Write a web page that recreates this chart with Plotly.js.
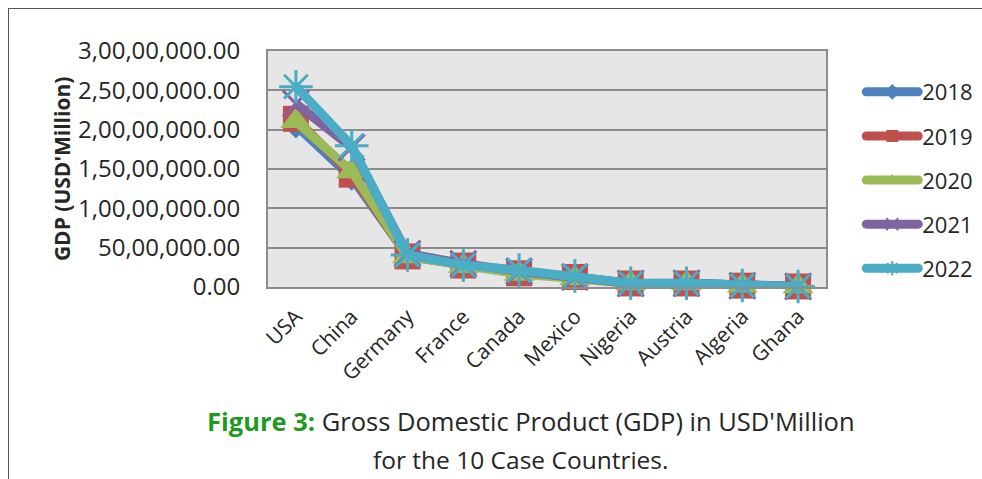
<!DOCTYPE html>
<html>
<head>
<meta charset="utf-8">
<script src="https://cdn.plot.ly/plotly-3.0.1.min.js"></script>
<style>
  html, body { margin: 0; padding: 0; background: #ffffff; }
  #wrap { position: relative; width: 982px; height: 479px; overflow: hidden; }
  #chart { width: 982px; height: 479px; }
  #frame { position: absolute; left: 8px; top: 8px; right: -4px; bottom: -4px;
           border-top: 1.5px solid #555; border-left: 1.5px solid #555; pointer-events: none; }
</style>
</head>
<body>
<div id="wrap">
  <div id="chart"></div>
  <div id="frame"></div>
</div>
<script>
// GDP in USD million for the ten case countries, 2018-2022
const countries = ["USA", "China", "Germany", "France", "Canada", "Mexico", "Nigeria", "Austria", "Algeria", "Ghana"];
const years = ["2018", "2019", "2020", "2021", "2022"];

const gdp2018 = [20533058, 13894818, 3974443, 2790957, 1725329, 1222408, 421739, 455095, 174910, 67299];
const gdp2019 = [21380976, 14279937, 3889669, 2728870, 1743725, 1269404, 448120, 444621, 171760, 68338];
const gdp2020 = [21060474, 14687744, 3887727, 2639009, 1655685, 1090515, 432199, 435225, 145744, 70043];
const gdp2021 = [23315081, 17734131, 4259935, 2957880, 2001487, 1272839, 440777, 480368, 163473, 79524];
const gdp2022 = [25462700, 17963171, 4072192, 2782905, 2139840, 1414187, 477386, 471400, 195060, 72839];

const yTickVals = [0, 5000000, 10000000, 15000000, 20000000, 25000000, 30000000];
const yTickText = ["0.00", "50,00,000.00", "1,00,00,000.00", "1,50,00,000.00",
                   "2,00,00,000.00", "2,50,00,000.00", "3,00,00,000.00"];

const seriesValues = [gdp2018, gdp2019, gdp2020, gdp2021, gdp2022];
const seriesColors = ["#4F81BD", "#C0504D", "#9BBB59", "#8064A2", "#4BACC6"];
const seriesSymbols = ["diamond", "square", "triangle-up", "x-thin-open", "asterisk-open"];
const seriesSizes = [20, 26, 27, 26, 28];

const FONT = "'Open Sans', 'Noto Sans', sans-serif";

const traces = years.map((yr, i) => ({
  type: "scatter",
  mode: "lines+markers",
  name: yr,
  legendgroup: yr,
  x: countries,
  y: seriesValues[i],
  line: { color: seriesColors[i], width: 9 },
  marker: {
    symbol: seriesSymbols[i],
    size: seriesSizes[i],
    color: seriesColors[i],
    line: { color: seriesColors[i], width: (i >= 3 ? 3 : 0) }
  },
  cliponaxis: false
}));

const layout = {
  width: 982,
  height: 479,
  margin: { l: 268, r: 156, t: 51, b: 192 },
  paper_bgcolor: "#ffffff",
  plot_bgcolor: "#e6e6e6",
  font: { family: FONT, color: "#262626" },
  showlegend: true,
  legend: {
    x: 1.065, xanchor: "left",
    y: 0.915, yanchor: "top",
    font: { family: FONT, size: 22, color: "#262626" },
    itemsizing: "constant",
    tracegroupgap: 12.5,
    bgcolor: "rgba(0,0,0,0)"
  },
  xaxis: {
    type: "category",
    range: [-0.5, 9.5],
    showgrid: false,
    zeroline: false,
    showline: true,
    linecolor: "#8c8c8c",
    linewidth: 2,
    mirror: true,
    ticks: "",
    tickangle: -45,
    ticklabelstandoff: 7,
    tickfont: { family: FONT, size: 21, color: "#262626" },
    fixedrange: true
  },
  yaxis: {
    range: [0, 30000000],
    tickvals: yTickVals,
    ticktext: yTickText,
    showgrid: true,
    gridcolor: "#8c8c8c",
    gridwidth: 2,
    zeroline: false,
    showline: true,
    linecolor: "#8c8c8c",
    linewidth: 2,
    mirror: true,
    ticks: "",
    ticklabelstandoff: 21,
    tickfont: { family: FONT, size: 24, color: "#262626" },
    fixedrange: true
  },
  annotations: [
    {
      // y-axis title
      xref: "paper", yref: "paper",
      x: -0.369, y: 0.5,
      xanchor: "center", yanchor: "middle",
      textangle: -90,
      showarrow: false,
      text: "<b>GDP (USD'Million)</b>",
      font: { family: FONT, size: 21, color: "#262626" }
    },
    {
      xref: "paper", yref: "paper",
      x: 0.4713, y: -0.568,
      xanchor: "center", yanchor: "middle",
      showarrow: false,
      text: "<span style=\"color:#1e9a1e\"><b>Figure 3:</b></span> Gross Domestic Product (GDP) in USD'Million",
      font: { family: FONT, size: 25.5, color: "#262626" }
    },
    {
      xref: "paper", yref: "paper",
      x: 0.4534, y: -0.729,
      xanchor: "center", yanchor: "middle",
      showarrow: false,
      text: "for the 10 Case Countries.",
      font: { family: FONT, size: 24.5, color: "#262626" }
    }
  ]
};

Plotly.newPlot("chart", traces, layout, { displayModeBar: false, staticPlot: true }).then(() => {
  // Longer, thicker legend swatches with rounded ends; text moved to follow them
  document.querySelectorAll("#chart .legend [clip-path]").forEach(e => e.removeAttribute("clip-path"));
  document.querySelectorAll("#chart .legend .traces").forEach(item => {
    item.querySelectorAll("path.js-line").forEach(p => {
      p.setAttribute("d", "M4,0h52");
      p.style.strokeLinecap = "round";
      p.style.strokeWidth = "9px";
    });
    item.querySelectorAll(".legendpoints path.scatterpts").forEach(p => {
      p.setAttribute("transform", "translate(30,0)");
    });
    const t = item.querySelector("text.legendtext");
    if (t) t.setAttribute("x", "60");
  });
});
</script>
</body>
</html>
